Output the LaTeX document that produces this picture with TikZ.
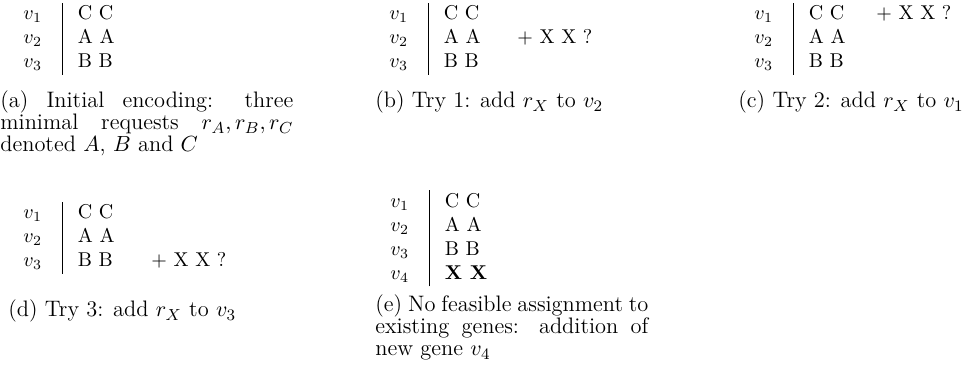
\documentclass[tikz,border=0pt]{standalone}
\usepackage{array}
\newcommand\capfnt{\fontsize{11.2}{11}\selectfont\hyphenpenalty=10000\exhyphenpenalty=10000\tolerance=10000}
\newcommand\gtab[1]{\begin{tabular}{@{}c@{\hspace{10pt}}|@{\hspace{7.5pt}}l@{}}#1\end{tabular}}
\begin{document}
\begin{tikzpicture}[x=0.5pt,y=-0.5pt,
  tabbox/.style={inner sep=0pt, font=\normalsize, anchor=west},
  plusx/.style={inner sep=0pt, anchor=base west, font=\normalsize},
  capbox/.style={inner sep=0pt, font=\capfnt, align=justify, anchor=base west},
  capline/.style={inner sep=0pt, font=\capfnt, anchor=base west}]
\useasboundingbox (0,0) rectangle (977,378);
% (a)
\node[tabbox] (ta) at (23,39) {\gtab{$v_1$ & C C\\ $v_2$ & A A\\ $v_3$ & B B}};
\node[capbox, text width=146.5pt] (ca) at (0,108) {(a) Initial encoding: three minimal requests $r_A, r_B, r_C$ denoted $A$, $B$ and $C$};
% (b)
\node[tabbox] (tb) at (389,39) {\gtab{$v_1$ & C C\\ $v_2$ & A A\\ $v_3$ & B B}};
\node[plusx] (pb) at (517,44) {+ X X ?};
\node[capline] (cb) at (375,108) {(b) Try 1: add $r_X$ to $v_2$};
% (c)
\node[tabbox] (tc) at (754,39) {\gtab{$v_1$ & C C\\ $v_2$ & A A\\ $v_3$ & B B}};
\node[plusx] (pc) at (876,20) {+ X X ?};
\node[capline] (cc) at (738,108) {(c) Try 2: add $r_X$ to $v_1$};
% (d)
\node[tabbox] (td) at (23,238) {\gtab{$v_1$ & C C\\ $v_2$ & A A\\ $v_3$ & B B}};
\node[plusx] (pd) at (151,267) {+ X X ?};
\node[capline] (cd) at (8,317) {(d) Try 3: add $r_X$ to $v_3$};
% (e)
\node[tabbox] (te) at (390,238.5) {\gtab{$v_1$ & C C\\ $v_2$ & A A\\ $v_3$ & B B\\ $v_4$ & \textbf{X X}}};
\node[capbox, text width=136.5pt] (ce) at (375,312) {(e) No feasible assignment to existing genes: addition of new gene $v_4$};
\end{tikzpicture}
\end{document}
